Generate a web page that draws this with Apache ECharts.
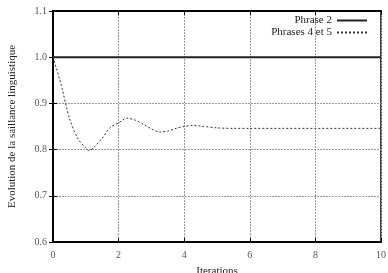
<!DOCTYPE html>
<html>
<head>
<meta charset="utf-8">
<script src="https://cdn.jsdelivr.net/npm/echarts@6/dist/echarts.min.js"></script>
<style>
  html, body { margin: 0; padding: 0; background: #fff; }
  #chart { width: 388px; height: 273px; }
</style>
</head>
<body>
<div id="chart"></div>
<script>
// iterations (x) and values
var iterX = [0, 0.25, 0.5, 0.75, 1, 1.1, 1.25, 1.5, 1.75, 2, 2.25, 2.5, 2.75, 3, 3.25, 3.5, 3.75, 4, 4.25, 4.5, 5, 5.5, 6, 7, 8, 9, 10];
var phrase45 = [1.0, 0.94, 0.868, 0.825, 0.803, 0.798, 0.805, 0.825, 0.848, 0.858, 0.868, 0.864, 0.855, 0.845, 0.838, 0.840, 0.846, 0.850, 0.852, 0.851, 0.847, 0.846, 0.846, 0.846, 0.846, 0.846, 0.846];
var phrase2X = [0, 10];
var phrase2 = [1.0, 1.0];
var xTicks = [0, 2, 4, 6, 8, 10];
var yTicks = [0.6, 0.7, 0.8, 0.9, 1.0, 1.1];

var fontFam = '"Liberation Serif", "DejaVu Serif", serif';

function pairs(xs, ys) {
    var out = [];
    for (var i = 0; i < xs.length; i++) {
        out.push([xs[i], ys[i]]);
    }
    return out;
}

var myChart = echarts.init(document.getElementById('chart'), null, { renderer: 'canvas' });
var option = {
    backgroundColor: '#fff',
    animation: false,
    textStyle: { fontFamily: fontFam },
    grid: {
        left: 53, right: 7, top: 11, bottom: 31,
        containLabel: false,
        outerBoundsMode: 'none',
        show: true,
        borderColor: '#000',
        borderWidth: 1.5
    },
    legend: {
        orient: 'vertical',
        right: 15,
        top: 10,
        padding: 5,
        align: 'right',
        itemWidth: 30,
        itemHeight: 10,
        itemGap: 1,
        itemStyle: { opacity: 0 },
        textStyle: { fontFamily: fontFam, fontSize: 11, color: '#222', padding: [0, 0, 0, 0] },
        data: ['Phrase 2', 'Phrases 4 et 5']
    },
    xAxis: [
        {
            type: 'value',
            min: 0, max: 10, interval: 2,
            name: 'Iterations',
            nameLocation: 'middle',
            nameGap: 24,
            nameTextStyle: { fontFamily: fontFam, fontSize: 11, color: '#222' },
            axisLine: { show: true, lineStyle: { color: '#000', width: 2 } },
            axisTick: { show: true, inside: true, length: 4, lineStyle: { color: '#000' } },
            axisLabel: { fontFamily: fontFam, fontSize: 10, color: '#555', margin: 8 },
            splitLine: { show: true, lineStyle: { color: '#999', type: [2, 1], width: 1 } }
        },
        {
            type: 'value',
            position: 'top',
            min: 0, max: 10, interval: 2,
            axisLine: { show: true, lineStyle: { color: '#000', width: 2 } },
            axisTick: { show: true, inside: true, length: 4, lineStyle: { color: '#000' } },
            axisLabel: { show: false },
            splitLine: { show: false }
        }
    ],
    yAxis: [
        {
            type: 'value',
            min: 0.6, max: 1.1, interval: 0.1,
            name: 'Evolution de la saillance linguistique',
            nameLocation: 'middle',
            nameGap: 35,
            nameTextStyle: { fontFamily: fontFam, fontSize: 11, color: '#222' },
            axisLine: { show: true, lineStyle: { color: '#000', width: 2 } },
            axisTick: { show: true, inside: true, length: 4, lineStyle: { color: '#000' } },
            axisLabel: {
                fontFamily: fontFam, fontSize: 10, color: '#555', margin: 6,
                formatter: function (v) { return v.toFixed(1); }
            },
            splitLine: { show: true, lineStyle: { color: '#999', type: [2, 1], width: 1 } }
        },
        {
            type: 'value',
            position: 'right',
            min: 0.6, max: 1.1, interval: 0.1,
            axisLine: { show: true, lineStyle: { color: '#000', width: 1 } },
            axisTick: { show: true, inside: true, length: 4, lineStyle: { color: '#000' } },
            axisLabel: { show: false },
            splitLine: { show: false }
        }
    ],
    series: [
        {
            name: 'Phrase 2',
            type: 'line',
            symbol: 'none',
            color: '#222',
            lineStyle: { color: '#222', width: 2, type: 'solid' },
            data: pairs(phrase2X, phrase2)
        },
        {
            name: 'Phrases 4 et 5',
            type: 'line',
            symbol: 'none',
            smooth: 0.3,
            color: '#333',
            lineStyle: { color: '#333', width: 1, type: [2, 2] },
            data: pairs(iterX, phrase45)
        }
    ]
};
myChart.setOption(option);
</script>
</body>
</html>
